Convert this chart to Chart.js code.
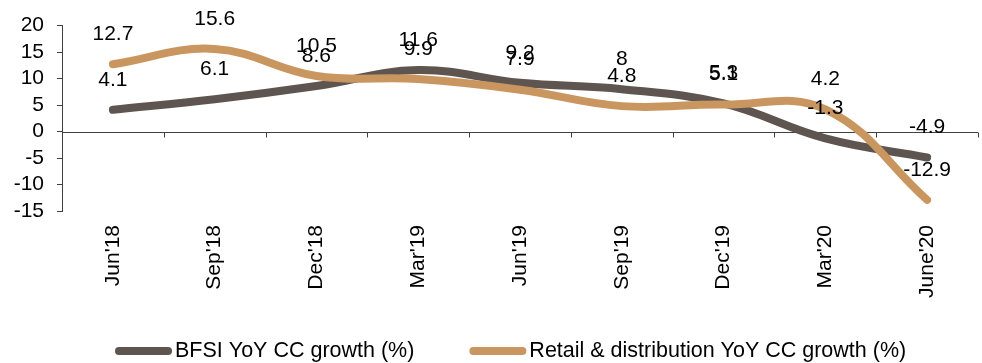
<!DOCTYPE html>
<html>
<head>
<meta charset="utf-8">
<script src="https://cdn.jsdelivr.net/npm/chart.js@4.4.0/dist/chart.umd.min.js"></script>
<style>
html,body{margin:0;padding:0;background:#fff;}
#wrap{width:982px;height:363px;position:relative;}
</style>
</head>
<body>
<div id="wrap"><canvas id="growthChart"></canvas></div>
<script>
var quarters = ["Jun'18","Sep'18","Dec'18","Mar'19","Jun'19","Sep'19","Dec'19","Mar'20","June'20"];
var bfsi = [4.1, 6.1, 8.6, 11.6, 9.2, 8, 5.3, -1.3, -4.9];
var retail = [12.7, 15.6, 10.5, 9.9, 7.9, 4.8, 5.1, 4.2, -12.9];

var FONT = "'Liberation Sans', Arial, sans-serif";
var FSIZE = 21;

// zero line with category tick marks, as in the original
var zeroLine = {
	id: 'zeroLine',
	beforeDatasetsDraw: function(chart) {
		var ctx = chart.ctx;
		var x = chart.scales.x, y = chart.scales.y;
		var y0 = Math.round(y.getPixelForValue(0)) + 0.5;
		var step = (x.right - x.left) / quarters.length;
		ctx.save();
		ctx.strokeStyle = '#404040';
		ctx.lineWidth = 1;
		ctx.beginPath();
		ctx.moveTo(x.left, y0);
		ctx.lineTo(x.right, y0);
		for (var i = 1; i <= quarters.length; i++) {
			var px = Math.round(x.left + step * i) + 0.5;
			ctx.moveTo(px, y0);
			ctx.lineTo(px, y0 + 5);
		}
		ctx.stroke();
		ctx.restore();
	}
};

// value labels above each point
var pointLabels = {
	id: 'pointLabels',
	afterDatasetsDraw: function(chart) {
		var ctx = chart.ctx;
		ctx.save();
		ctx.font = FSIZE + 'px ' + FONT;
		ctx.fillStyle = '#000';
		ctx.textAlign = 'center';
		ctx.textBaseline = 'middle';
		chart.data.datasets.forEach(function(ds, di) {
			var meta = chart.getDatasetMeta(di);
			meta.data.forEach(function(pt, i) {
				ctx.fillText(String(ds.data[i]), pt.x, pt.y - 30);
			});
		});
		ctx.restore();
	}
};

// legend: line swatch then text, excel style
var lineLegend = {
	id: 'lineLegend',
	afterDraw: function(chart) {
		var ctx = chart.ctx;
		var cy = 351;
		var x = 115;
		ctx.save();
		ctx.font = '21.5px ' + FONT;
		ctx.textBaseline = 'middle';
		ctx.textAlign = 'left';
		chart.data.datasets.forEach(function(ds) {
			ctx.strokeStyle = ds.borderColor;
			ctx.lineWidth = 8;
			ctx.lineCap = 'round';
			ctx.beginPath();
			ctx.moveTo(x + 4, cy);
			ctx.lineTo(x + 53, cy);
			ctx.stroke();
			ctx.fillStyle = '#000';
			ctx.fillText(ds.label, x + 60, cy);
			x = x + 60 + ctx.measureText(ds.label).width + 55;
		});
		ctx.restore();
	}
};

var ctx = document.getElementById('growthChart');
var myChart = new Chart(ctx, {
	type: 'line',
	data: {
		labels: quarters,
		datasets: [
			{
				label: 'BFSI YoY CC growth (%)',
				data: bfsi,
				borderColor: '#5e5550',
				backgroundColor: '#5e5550',
				borderWidth: 8,
				borderCapStyle: 'round',
				tension: 0.4,
				pointRadius: 0,
				order: 1
			},
			{
				label: 'Retail & distribution YoY CC growth (%)',
				data: retail,
				borderColor: '#c99660',
				backgroundColor: '#c99660',
				borderWidth: 8,
				borderCapStyle: 'round',
				tension: 0.4,
				pointRadius: 0,
				order: 0
			}
		]
	},
	options: {
		responsive: true,
		maintainAspectRatio: false,
		animation: false,
		layout: { padding: { left: 10, top: 23, right: 4, bottom: 62 } },
		plugins: {
			tooltip: { enabled: false },
			legend: { display: false }
		},
		scales: {
			x: {
				offset: true,
				afterFit: function(scale) { scale.height = 90; },
				grid: { display: false, drawTicks: false },
				border: { display: false },
				ticks: {
					font: { family: FONT, size: FSIZE },
					color: '#000',
					minRotation: 90,
					maxRotation: 90,
					autoSkip: false,
					padding: 14
				}
			},
			y: {
				min: -15,
				max: 20,
				afterFit: function(scale) { scale.width = 52; },
				grid: { drawOnChartArea: false, drawTicks: true, tickLength: 5, color: '#404040' },
				border: { display: true, color: '#404040', width: 1 },
				ticks: {
					stepSize: 5,
					autoSkip: false,
					font: { family: FONT, size: FSIZE },
					color: '#000',
					padding: 13
				}
			}
		}
	},
	plugins: [zeroLine, pointLabels, lineLegend]
});
</script>
</body>
</html>
